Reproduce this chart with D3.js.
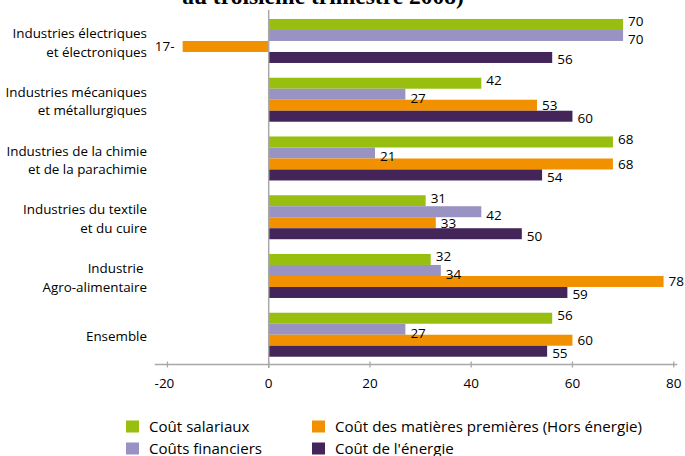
<!DOCTYPE html>
<html><head><meta charset="utf-8">
<script src="https://cdn.jsdelivr.net/npm/d3@7"></script>
<style>
html,body{margin:0;padding:0;background:#fff;}
svg{display:block;}
text{font-family:"Open Sans","Liberation Sans",Arial,sans-serif;fill:#000;}
</style></head>
<body>
<svg id="chart" width="685" height="456"></svg>
<script>
const categories = [
  ["Industries électriques", "et électroniques"],
  ["Industries mécaniques", "et métallurgiques"],
  ["Industries de la chimie", "et de la parachimie"],
  ["Industries du textile", "et du cuire"],
  ["Industrie ", "Agro-alimentaire"],
  ["Ensemble"]
];
const seriesNames = ["Coût salariaux", "Coûts financiers", "Coût des matières premières (Hors énergie)", "Coût de l'énergie"];
const salariaux  = [70, 42, 68, 31, 32, 56];
const financiers = [70, 27, 21, 42, 34, 27];
const matieres   = [-17, 53, 68, 33, 78, 60];
const energie    = [56, 60, 54, 50, 59, 55];
const xTicks = [-20, 0, 20, 40, 60, 80];
const titleText = "au troisième trimestre 2008)";

const colors = ["#98be10", "#9893c2", "#f29100", "#442559"];
const seriesValues = [salariaux, financiers, matieres, energie];

const svg = d3.select("#chart");
const x = d3.scaleLinear().domain([-20, 80]).range([167.45, 673.7]);
const catIdx = d3.range(categories.length);
const y0 = d3.scaleBand().domain(catIdx).range([11.6, 364.1]).paddingInner(0.251).paddingOuter(0.1255);
const y1 = d3.scaleBand().domain(d3.range(seriesNames.length)).range([0, y0.bandwidth()]);

// title (cut at top)
svg.append("text").attr("x", 323).attr("y", 3.5).attr("text-anchor", "middle")
  .style("font-family", "'Liberation Serif','Times New Roman',serif").style("font-weight", "bold")
  .style("font-size", "23.5px").text(titleText);

// bars
const groups = svg.append("g").selectAll("g").data(catIdx).join("g")
  .attr("transform", i => `translate(0,${y0(i)})`);
groups.selectAll("rect").data(i => seriesValues.map((s, k) => ({k, v: s[i]}))).join("rect")
  .attr("x", d => x(Math.min(0, d.v)))
  .attr("width", d => Math.abs(x(d.v) - x(0)))
  .attr("y", d => y1(d.k))
  .attr("height", y1.bandwidth())
  .attr("fill", d => colors[d.k]);

// value labels
const labelShift = [-3, 3.5, 0, 2];
groups.selectAll("text").data(i => seriesValues.map((s, k) => ({k, v: s[i]}))).join("text")
  .attr("x", d => d.v < 0 ? x(d.v) - 8 : x(d.v) + 5)
  .attr("y", d => y1(d.k) + y1.bandwidth() / 2 + labelShift[d.k])
  .attr("dy", "0.36em")
  .attr("text-anchor", d => d.v < 0 ? "end" : "start")
  .style("font-size", "13.5px")
  .text(d => d.v < 0 ? Math.abs(d.v) + "-" : d.v);

// zero line
svg.append("line").attr("x1", x(0)).attr("x2", x(0)).attr("y1", 10).attr("y2", 368)
  .attr("stroke", "#a8a8a8").attr("stroke-width", 1.5);

// x axis
const axisY = 364.5;
const ax = svg.append("g").attr("transform", `translate(0,${axisY})`);
ax.append("line").attr("x1", x(-22.5)).attr("x2", x(80.7)).attr("stroke", "#a8a8a8").attr("stroke-width", 1.3);
ax.selectAll("line.t").data(xTicks).join("line").attr("class", "t")
  .attr("x1", d => x(d)).attr("x2", d => x(d)).attr("y1", -3).attr("y2", 3)
  .attr("stroke", "#a8a8a8").attr("stroke-width", 1.3);
ax.selectAll("text").data(xTicks).join("text")
  .attr("x", d => x(d) - (d < 0 ? 3 : 0)).attr("y", 19).attr("dy", "0.36em")
  .attr("text-anchor", "middle").style("font-size", "13.5px").text(d => d);

// category labels
const lh = 18.5;
svg.append("g").selectAll("text").data(catIdx).join("text")
  .attr("text-anchor", "end").style("font-size", "13.4px")
  .each(function(i) {
    const lines = categories[i];
    const cy = y0(i) + y0.bandwidth() / 2 + 1.5;
    const t = d3.select(this);
    lines.forEach((ln, j) => {
      t.append("tspan").attr("x", 147).attr("y", cy + (j - (lines.length - 1) / 2) * lh)
        .attr("dy", "0.36em").style("white-space", "pre").text(ln);
    });
  });

// legend
const legendPos = [[126, 426.5], [126, 448.5], [312, 426.5], [312, 448.5]];
const lg = svg.append("g").selectAll("g").data(seriesNames).join("g")
  .attr("transform", (d, i) => `translate(${legendPos[i][0]},${legendPos[i][1]})`);
lg.append("rect").attr("x", 0).attr("y", -6).attr("width", 13).attr("height", 12).attr("fill", (d, i) => colors[i]);
lg.append("text").attr("x", 23).attr("y", 0).attr("dy", "0.36em").style("font-size", "15.1px").text(d => d);
</script>
</body></html>
